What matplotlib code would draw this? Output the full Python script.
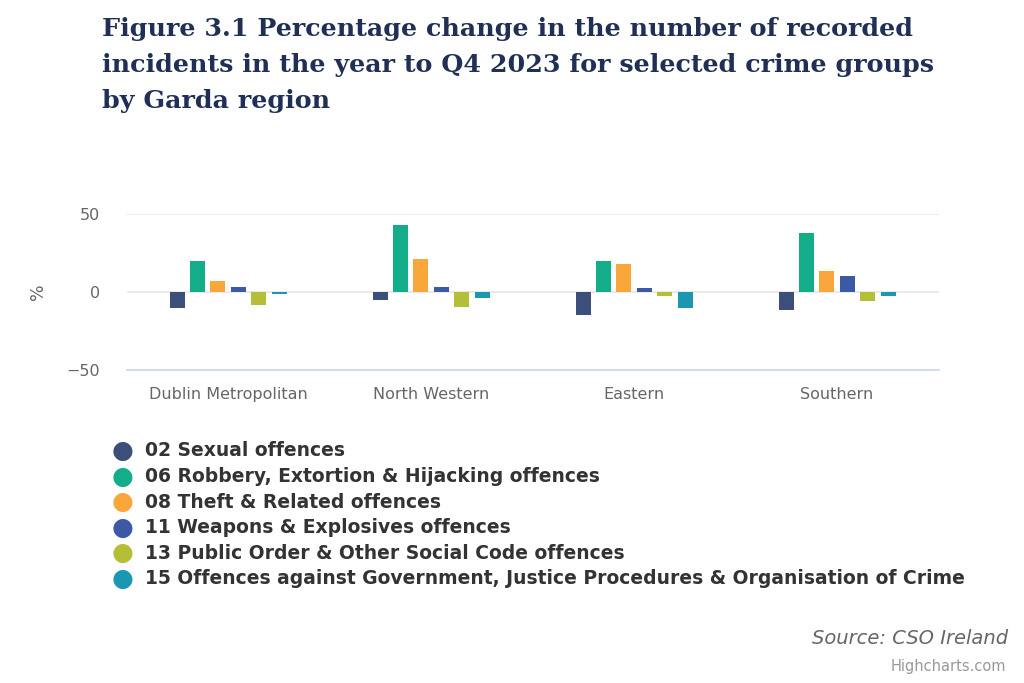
import numpy as np
import matplotlib.pyplot as plt

# Data
regions = ['Dublin Metropolitan', 'North Western', 'Eastern', 'Southern']
series = [
    '02 Sexual offences',
    '06 Robbery, Extortion & Hijacking offences',
    '08 Theft & Related offences',
    '11 Weapons & Explosives offences',
    '13 Public Order & Other Social Code offences',
    '15 Offences against Government, Justice Procedures & Organisation of Crime',
]
sexual = [-10.3, -5.0, -15.0, -11.3]
robbery = [20.1, 43.0, 20.0, 37.6]
theft = [7.0, 21.0, 17.7, 13.5]
weapons = [3.4, 3.4, 2.6, 10.3]
public_order = [-8.3, -9.6, -2.8, -6.0]
government = [-1.6, -4.0, -10.5, -2.8]
values = [sexual, robbery, theft, weapons, public_order, government]

colors = ['#3c4e7a', '#13ad89', '#f9a73b', '#3b59a5', '#b4be36', '#1a98b1']

fig = plt.figure(figsize=(10.24, 6.83), dpi=100)
ax = fig.add_axes([126.5 / 1024, 1 - 370 / 683, 812 / 1024, 156 / 683])

x = np.arange(len(regions))
slot = 20.4 / 203
width = 15 / 203
for i, (vals, col) in enumerate(zip(values, colors)):
    ax.bar(x + (i - 2.5) * slot, vals, width, color=col, label=series[i], zorder=3)

ax.set_xlim(-0.5, len(regions) - 0.5)
ax.set_ylim(-50, 50)
ax.set_yticks([-50, 0, 50])
ax.set_yticklabels(['\u221250', '0', '50'])
ax.set_xticks(x)
ax.set_xticklabels(regions)
ax.grid(axis='y', color='#e6e6e6', linewidth=1.2, zorder=0)
for s in ['top', 'right', 'left']:
    ax.spines[s].set_visible(False)
ax.spines['bottom'].set_color('#ccd6eb')
ax.spines['bottom'].set_linewidth(1.2)
ax.tick_params(axis='both', length=0, colors='#666666', labelsize=11.5)
ax.tick_params(axis='y', pad=19)
ax.tick_params(axis='x', pad=12)
ax.set_ylabel('%', color='#666666', fontsize=12.5, labelpad=14)

# Title
fig.text(102 / 1024, 1 - 17 / 683,
         'Figure 3.1 Percentage change in the number of recorded\n'
         'incidents in the year to Q4 2023 for selected crime groups\n'
         'by Garda region',
         ha='left', va='top', fontsize=18.3, fontweight='bold',
         family='DejaVu Serif', color='#1f2f56', linespacing=1.62)

# Legend (manual, one item per row)
leg_y0 = 451
for i, (name, col) in enumerate(zip(series, colors)):
    yy = 1 - (leg_y0 + i * 25.6) / 683
    fig.text(123 / 1024, yy, '\u25cf', color=col, fontsize=18,
             ha='center', va='center')
    fig.text(145 / 1024, yy, name, color='#333333', fontsize=13.5,
             fontweight='bold', ha='left', va='center')

fig.text(1008 / 1024, 1 - 639 / 683, 'Source: CSO Ireland', ha='right',
         va='center', fontsize=14, style='italic', color='#666666')
fig.text(1006 / 1024, 1 - 667 / 683, 'Highcharts.com', ha='right',
         va='center', fontsize=10.5, color='#999999')

fig.savefig('out.png', dpi=100)
